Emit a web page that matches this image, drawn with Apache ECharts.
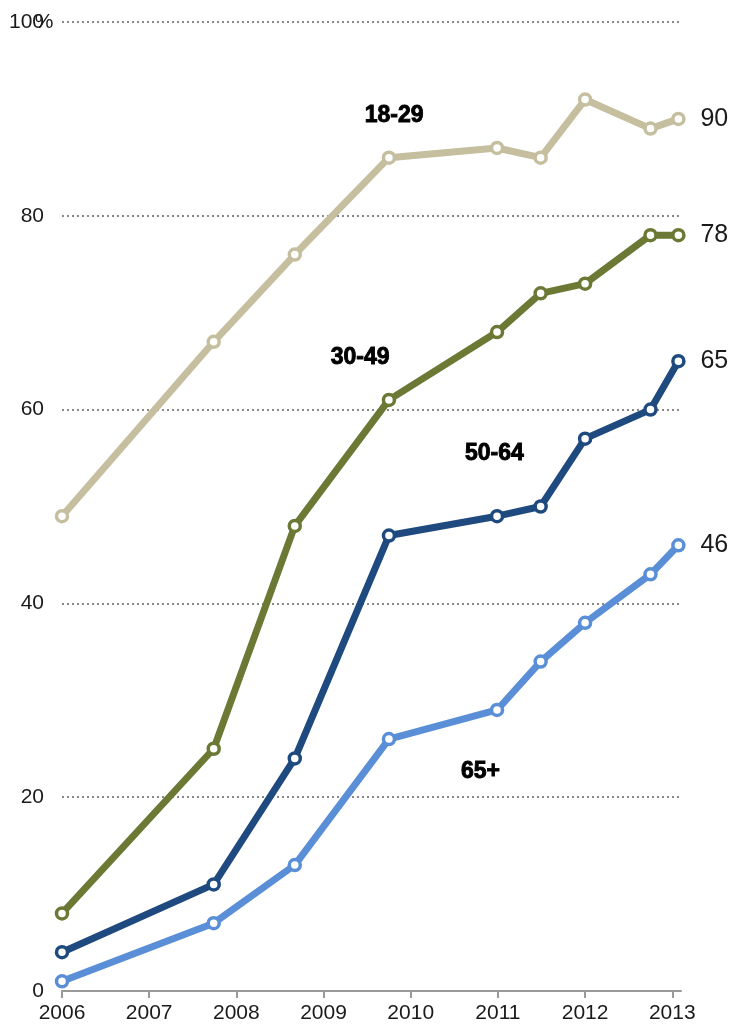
<!DOCTYPE html>
<html>
<head>
<meta charset="utf-8">
<script src="https://cdn.jsdelivr.net/npm/echarts@6/dist/echarts.min.js"></script>
<style>html,body{margin:0;padding:0;background:#fff}#c{width:738px;height:1028px}</style>
</head>
<body>
<div id="c"></div>
<script>
// Survey dates (decimal years)
const dates = [2006.0, 2007.74, 2008.67, 2009.75, 2010.99, 2011.49, 2012.0, 2012.75, 2013.07];
const age18to29 = [49, 67, 76, 86, 87, 86, 92, 89, 90];
const age30to49 = [8, 25, 48, 61, 68, 72, 73, 78, 78];
const age50to64 = [4, 11, 24, 47, 49, 50, 57, 60, 65];
const age65plus = [1, 7, 13, 26, 29, 34, 38, 43, 46];
const seriesNames = ['18-29', '30-49', '50-64', '65+'];
const yTicks = [0, 20, 40, 60, 80, 100];
const xTicks = [2006, 2007, 2008, 2009, 2010, 2011, 2012, 2013];

const colors = ['#c5be9f', '#6b7935', '#1e4a7f', '#5a8fd8'];
const labelAt = [[2009.81, 90.3], [2009.42, 65.4], [2010.96, 55.5], [2010.80, 22.6]];
const allData = [age18to29, age30to49, age50to64, age65plus];

const chart = echarts.init(document.getElementById('c'), null, {renderer: 'canvas'});
const font = '"Liberation Sans", Arial, sans-serif';

const series = allData.map((vals, i) => ({
  name: seriesNames[i],
  type: 'line',
  data: vals.map((v, j) => [dates[j], v]),
  lineStyle: {color: colors[i], width: 7},
  itemStyle: {color: '#fff', borderColor: colors[i], borderWidth: 3.5},
  symbol: 'circle',
  symbolSize: 11,
  showAllSymbol: true,
  z: 10 - i,
  endLabel: {
    show: true,
    formatter: p => p.value[1],
    distance: 22,
    color: '#1a1a1a',
    fontFamily: font,
    fontSize: 25
  },
  markPoint: {
    symbolSize: 0,
    silent: true,
    data: [{coord: labelAt[i], value: seriesNames[i]}],
    label: {
      show: true,
      position: 'inside',
      formatter: seriesNames[i],
      color: '#000',
      fontFamily: font,
      fontWeight: 'bold',
      fontSize: 23,
      textBorderColor: '#000',
      textBorderWidth: 0.9
    }
  }
}));

chart.setOption({
  animation: false,
  backgroundColor: '#fff',
  grid: {left: 62, right: 57, top: 22, bottom: 37, containLabel: false, outerBoundsMode: 'none'},
  xAxis: {
    type: 'value',
    min: 2006,
    max: 2013.1,
    interval: 1,
    axisLine: {show: true, lineStyle: {color: '#999', width: 2}},
    axisTick: {show: true, length: 7, customValues: xTicks, lineStyle: {color: '#999', width: 2}},
    axisLabel: {
      color: '#1a1a1a', fontFamily: font, fontSize: 21, margin: 12,
      customValues: xTicks,
      formatter: v => String(v)
    },
    splitLine: {show: false}
  },
  yAxis: {
    type: 'value',
    min: 0,
    max: 100,
    interval: 20,
    axisLine: {show: false},
    axisTick: {show: false},
    axisLabel: {
      color: '#1a1a1a', fontFamily: font, fontSize: 21, margin: 18,
      formatter: v => yTicks.indexOf(v) >= 0 ? (v === 100 ? '{n|100}{p|%}' : String(v)) : '',
      rich: {
        n: {color: '#1a1a1a', fontFamily: font, fontSize: 21},
        p: {color: '#1a1a1a', fontFamily: font, fontSize: 21, width: 0, align: 'left'}
      }
    },
    splitLine: {show: true, lineStyle: {color: '#888', width: 2, type: [2, 3]}}
  },
  series: series
});
</script>
</body>
</html>
